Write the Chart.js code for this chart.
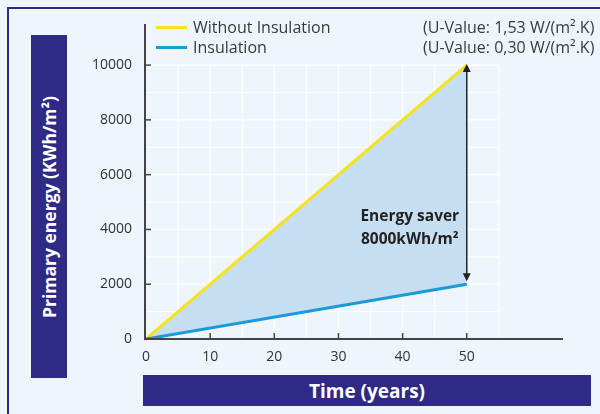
<!DOCTYPE html>
<html>
<head>
<meta charset="utf-8">
<script src="https://cdn.jsdelivr.net/npm/chart.js@4.4.0/dist/chart.umd.min.js"></script>
<style>
  html, body { margin: 0; padding: 0; background: #eef5fc; }
  #wrap { position: relative; width: 600px; height: 414px; overflow: hidden; font-family: "Open Sans", sans-serif; }
  #frame { position: absolute; left: 7px; top: 7px; width: 620px; height: 440px; border: 2px solid #2e2a88; box-sizing: border-box; }
  #c { position: absolute; left: 0; top: 0; }
  .box { position: absolute; background: #2e2a85; color: #fff; font-weight: bold; display: flex; align-items: center; justify-content: center; }
  #ybox { left: 31px; top: 35px; width: 36px; height: 343px; }
  #ybox span { transform: rotate(-90deg); white-space: nowrap; font-size: 17.5px; }
  #xbox { left: 143px; top: 375px; width: 448px; height: 31px; font-size: 19px; }
  .leg { position: absolute; font-size: 16px; color: #3a3a3a; white-space: nowrap; line-height: 20px; }
  .swatch { position: absolute; width: 31px; height: 3px; }
</style>
</head>
<body>
<div id="wrap">
  <div id="frame"></div>
  <canvas id="c" width="600" height="414"></canvas>
  <div class="box" id="ybox"><span>Primary energy (KWh/m²)</span></div>
  <div class="box" id="xbox">Time (years)</div>
  <div class="swatch" style="left:156px;top:26px;background:#f6e31a"></div>
  <div class="leg" style="left:193px;top:17px">Without Insulation</div>
  <div class="swatch" style="left:156px;top:46px;background:#1b9ad9"></div>
  <div class="leg" style="left:193px;top:37px">Insulation</div>
  <div class="leg" style="left:423px;top:17px">(U-Value: 1,53 W/(m².K)</div>
  <div class="leg" style="left:423px;top:37px">(U-Value: 0,30 W/(m².K)</div>
</div>
<script>
// data
const years = [0, 50];
const withoutInsulation = [0, 10000];
const withInsulation = [0, 2000];
const xTicks = [0, 10, 20, 30, 40, 50];
const yTicks = [0, 2000, 4000, 6000, 8000, 10000];
const xGrid = [5, 10, 15, 20, 25, 30, 35, 40, 45, 50, 55];
const yGrid = [1000, 2000, 3000, 4000, 5000, 6000, 7000, 8000, 9000, 10000];
const savingLabel = ['Energy saver', '8000kWh/m²'];

const AXIS = '#444';

// grid, axis lines, ticks, arrow and note
const decor = {
  id: 'decor',
  beforeDatasetsDraw(chart) {
    const ctx = chart.ctx, x = chart.scales.x, y = chart.scales.y;
    ctx.save();
    ctx.strokeStyle = '#ffffff';
    ctx.lineWidth = 1.2;
    const top = y.getPixelForValue(10000), bot = y.getPixelForValue(0);
    const left = x.getPixelForValue(0), right = x.getPixelForValue(55);
    xGrid.forEach(v => {
      const px = x.getPixelForValue(v);
      ctx.beginPath(); ctx.moveTo(px, top); ctx.lineTo(px, bot); ctx.stroke();
    });
    yGrid.forEach(v => {
      const py = y.getPixelForValue(v);
      ctx.beginPath(); ctx.moveTo(left, py); ctx.lineTo(right, py); ctx.stroke();
    });
    ctx.restore();
  },
  afterDatasetsDraw(chart) {
    const ctx = chart.ctx, x = chart.scales.x, y = chart.scales.y;
    const ca = chart.chartArea;
    ctx.save();
    // axes
    ctx.strokeStyle = AXIS;
    ctx.lineWidth = 2;
    ctx.beginPath();
    ctx.moveTo(ca.left - 1, ca.top);
    ctx.lineTo(ca.left - 1, ca.bottom);
    ctx.lineTo(ca.right, ca.bottom);
    ctx.stroke();
    ctx.lineWidth = 1.5;
    yTicks.slice(1).forEach(v => {
      const py = y.getPixelForValue(v);
      ctx.beginPath(); ctx.moveTo(ca.left - 1, py); ctx.lineTo(ca.left + 5, py); ctx.stroke();
    });
    xTicks.slice(1).forEach(v => {
      const px = x.getPixelForValue(v);
      ctx.beginPath(); ctx.moveTo(px, ca.bottom); ctx.lineTo(px, ca.bottom - 6); ctx.stroke();
    });

    // double arrow between the two lines at year 50
    const ax = x.getPixelForValue(years[1]);
    const y1 = y.getPixelForValue(withoutInsulation[1]) - 1;
    const y2 = y.getPixelForValue(withInsulation[1]) - 3;
    ctx.strokeStyle = '#222';
    ctx.fillStyle = '#222';
    ctx.lineWidth = 1.5;
    ctx.beginPath(); ctx.moveTo(ax, y1 + 6); ctx.lineTo(ax, y2 - 6); ctx.stroke();
    ctx.beginPath(); ctx.moveTo(ax, y1); ctx.lineTo(ax - 4, y1 + 8); ctx.lineTo(ax + 4, y1 + 8); ctx.closePath(); ctx.fill();
    ctx.beginPath(); ctx.moveTo(ax, y2); ctx.lineTo(ax - 4, y2 - 8); ctx.lineTo(ax + 4, y2 - 8); ctx.closePath(); ctx.fill();

    ctx.font = 'bold 15.5px "Open Sans", sans-serif';
    ctx.textAlign = 'center';
    ctx.textBaseline = 'middle';
    ctx.fillText(savingLabel[0], ax - 57, y.getPixelForValue(4480));
    ctx.fillText(savingLabel[1], ax - 57, y.getPixelForValue(3620));
    ctx.restore();
  }
};

new Chart(document.getElementById('c'), {
  type: 'line',
  data: {
    datasets: [
      {
        label: 'Without Insulation',
        data: years.map((t, i) => ({x: t, y: withoutInsulation[i]})),
        borderColor: '#f6e31a',
        borderWidth: 3,
        backgroundColor: '#c6def2',
        fill: '+1',
        pointRadius: 0,
        order: 2
      },
      {
        label: 'Insulation',
        data: years.map((t, i) => ({x: t, y: withInsulation[i]})),
        borderColor: '#1b9ad9',
        borderWidth: 3,
        fill: false,
        pointRadius: 0,
        order: 1
      }
    ]
  },
  options: {
    responsive: false,
    animation: false,
    layout: { padding: { left: 46, right: 37, top: 24, bottom: 45 } },
    plugins: { legend: { display: false }, tooltip: { enabled: false } },
    scales: {
      x: {
        type: 'linear', min: 0, max: 65,
        afterBuildTicks: s => { s.ticks = xTicks.map(v => ({value: v})); },
        afterFit: s => { s.height = 30; },
        grid: { display: false, drawTicks: false },
        border: { display: false },
        ticks: { padding: 10, color: '#333', font: { family: 'Open Sans', size: 14 }, callback: v => String(v) }
      },
      y: {
        type: 'linear', min: 0, max: 11500,
        afterBuildTicks: s => { s.ticks = yTicks.map(v => ({value: v})); },
        afterFit: s => { s.width = 100; },
        grid: { display: false, drawTicks: false },
        border: { display: false },
        ticks: { padding: 14, color: '#333', font: { family: 'Open Sans', size: 14 }, callback: v => String(v) }
      }
    }
  },
  plugins: [decor]
});
</script>
</body>
</html>
